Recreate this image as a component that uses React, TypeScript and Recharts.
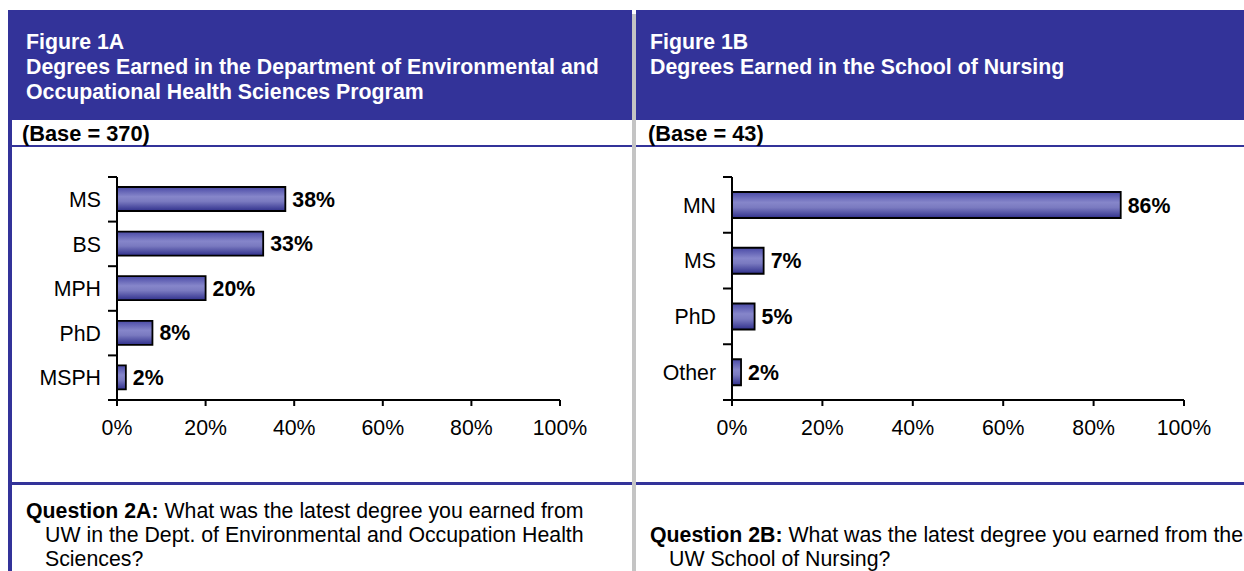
import React from "react";
import { BarChart, Bar, XAxis, YAxis, LabelList } from "recharts";

// Figure 1A: Environmental and Occupational Health Sciences (Base = 370)
const degreesA = ["MS", "BS", "MPH", "PhD", "MSPH"];
const percentsA = [38, 33, 20, 8, 2];

// Figure 1B: School of Nursing (Base = 43)
const degreesB = ["MN", "MS", "PhD", "Other"];
const percentsB = [86, 7, 5, 2];

const percentTicks = [0, 20, 40, 60, 80, 100];

const NAVY = "#333399";
const FONT = '"Liberation Sans", Arial, Helvetica, sans-serif';

const CHART_H = 290;
const MARGIN_TOP = 27;
const XAXIS_H = 40;
const PLOT_H = CHART_H - MARGIN_TOP - XAXIS_H;

interface DegreeChartProps {
  degrees: string[];
  percents: number[];
  left: number;
  yAxisWidth: number;
  barSize: number;
  gradId: string;
}

function DegreeChart({ degrees, percents, left, yAxisWidth, barSize, gradId }: DegreeChartProps) {
  const data = degrees.map((degree, i) => ({ degree, pct: percents[i] }));
  const half = PLOT_H / degrees.length / 2;

  // category labels + Excel style tick marks between the bands
  const renderTick = (props: any) => {
    const { y, payload, index } = props;
    const axisX = yAxisWidth;
    return (
      <g>
        <line x1={axisX - 9} x2={axisX} y1={y - half} y2={y - half} stroke="#000" strokeWidth={2} />
        {index === degrees.length - 1 && (
          <line x1={axisX - 9} x2={axisX} y1={y + half} y2={y + half} stroke="#000" strokeWidth={2} />
        )}
        <text x={axisX - 16} y={y} dy="0.36em" textAnchor="end" fontSize={21.3} fill="#000" fontFamily={FONT}>
          {payload.value}
        </text>
      </g>
    );
  };

  return (
    <div style={{ position: "absolute", left, top: 150 }}>
      <BarChart
        width={590}
        height={CHART_H}
        data={data}
        layout="vertical"
        margin={{ top: MARGIN_TOP, right: 42, bottom: 0, left: 0 }}
      >
        <defs>
          <linearGradient id={gradId} x1="0" y1="0" x2="0" y2="1">
            <stop offset="0%" stopColor="#4a4aa6" />
            <stop offset="40%" stopColor="#8686ca" />
            <stop offset="60%" stopColor="#7a7ac0" />
            <stop offset="100%" stopColor="#30308c" />
          </linearGradient>
        </defs>
        <XAxis
          type="number"
          domain={[0, 100]}
          ticks={percentTicks}
          interval={0}
          height={XAXIS_H}
          tickFormatter={(v: number) => `${v}%`}
          axisLine={{ stroke: "#000", strokeWidth: 2 }}
          tickLine={{ stroke: "#000", strokeWidth: 2 }}
          tickSize={6}
          tickMargin={14}
          tick={{ fontSize: 21.3, fill: "#000", fontFamily: FONT }}
        />
        <YAxis
          type="category"
          dataKey="degree"
          width={yAxisWidth}
          axisLine={{ stroke: "#000", strokeWidth: 2 }}
          tickLine={false}
          tick={renderTick}
          interval={0}
        />
        <Bar
          dataKey="pct"
          fill={`url(#${gradId})`}
          stroke="#000"
          strokeWidth={1.8}
          barSize={barSize}
          isAnimationActive={false}
        >
          <LabelList
            dataKey="pct"
            position="right"
            offset={7}
            formatter={(v: any) => `${v}%`}
            style={{ fontSize: 21.3, fontWeight: "bold", fill: "#000", fontFamily: FONT }}
          />
        </Bar>
      </BarChart>
    </div>
  );
}

const titleStyle: React.CSSProperties = {
  position: "absolute",
  top: 30,
  color: "#fff",
  fontWeight: "bold",
  fontSize: 21.3,
  lineHeight: "25px",
  whiteSpace: "nowrap",
};

const baseStyle: React.CSSProperties = {
  position: "absolute",
  top: 121,
  fontWeight: "bold",
  fontSize: 21.8,
  lineHeight: "25px",
  color: "#000",
  whiteSpace: "nowrap",
};

const questionStyle: React.CSSProperties = {
  position: "absolute",
  fontSize: 21.3,
  lineHeight: "24px",
  color: "#000",
  whiteSpace: "nowrap",
};

export default function App() {
  return (
    <div
      style={{
        position: "absolute",
        left: 0,
        top: 0,
        width: 1244,
        height: 571,
        background: "#fff",
        overflow: "hidden",
        fontFamily: FONT,
      }}
    >
      {/* header bands */}
      <div style={{ position: "absolute", left: 8, top: 10, width: 624, height: 110, background: NAVY }} />
      <div style={{ position: "absolute", left: 636, top: 10, width: 608, height: 110, background: NAVY }} />
      {/* left border and middle divider */}
      <div style={{ position: "absolute", left: 8, top: 10, width: 4, height: 561, background: NAVY }} />
      <div style={{ position: "absolute", left: 632, top: 14, width: 4, height: 557, background: "#c4c4c4" }} />
      {/* rules under the base row and under the charts */}
      <div style={{ position: "absolute", left: 8, top: 145, width: 624, height: 2, background: NAVY }} />
      <div style={{ position: "absolute", left: 636, top: 145, width: 608, height: 2, background: NAVY }} />
      <div style={{ position: "absolute", left: 8, top: 482, width: 624, height: 3, background: NAVY }} />
      <div style={{ position: "absolute", left: 636, top: 482, width: 608, height: 3, background: NAVY }} />

      <div style={{ ...titleStyle, left: 26 }}>
        Figure 1A
        <br />
        Degrees Earned in the Department of Environmental and
        <br />
        Occupational Health Sciences Program
      </div>
      <div style={{ ...titleStyle, left: 650 }}>
        Figure 1B
        <br />
        Degrees Earned in the School of Nursing
      </div>

      <div style={{ ...baseStyle, left: 22 }}>(Base = 370)</div>
      <div style={{ ...baseStyle, left: 648 }}>(Base = 43)</div>

      <DegreeChart degrees={degreesA} percents={percentsA} left={12} yAxisWidth={105} barSize={24} gradId="gradA" />
      <DegreeChart degrees={degreesB} percents={percentsB} left={636} yAxisWidth={96} barSize={26} gradId="gradB" />

      <div style={{ ...questionStyle, left: 26, top: 499 }}>
        <b>Question 2A:</b> What was the latest degree you earned from
        <br />
        <span style={{ paddingLeft: 19 }}>UW in the Dept. of Environmental and Occupation Health</span>
        <br />
        <span style={{ paddingLeft: 19 }}>Sciences?</span>
      </div>
      <div style={{ ...questionStyle, left: 650, top: 523 }}>
        <b>Question 2B:</b> What was the latest degree you earned from the
        <br />
        <span style={{ paddingLeft: 19 }}>UW School of Nursing?</span>
      </div>
    </div>
  );
}
